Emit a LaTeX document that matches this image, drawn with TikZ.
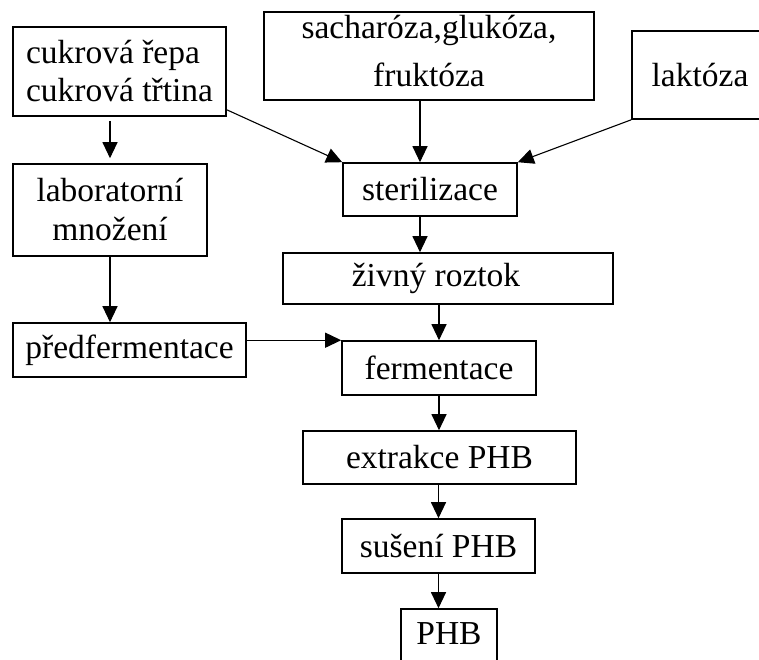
\documentclass[tikz,border=0pt]{standalone}
\usepackage{fontspec}
\setmainfont{Liberation Serif}
\usepackage{tikz}
\usetikzlibrary{arrows.meta,positioning,calc}

\begin{document}
\begin{tikzpicture}[x=1pt, y=-1pt,
      box/.style={draw=black, line width=1.6pt, align=center, inner sep=0pt,
                  font=\fontsize{33.5}{38}\selectfont},
      flow/.style={-{Triangle[length=16pt, width=15pt]}, line width=1.1pt, draw=black}]
    \useasboundingbox (0,0) rectangle (759,659);
    % sources
    \node[box, align=left, minimum width=213pt, minimum height=89pt] (cane) at (119.5,71.5)
      {cukrová řepa\\cukrová třtina};
    \node[box, minimum width=330pt, minimum height=88pt, text depth=10pt] (sugars) at (429,56)
      {sacharóza,glukóza,\\[10pt]fruktóza};
    \node[box, minimum width=136pt, minimum height=88pt] (lactose) at (700,75) {laktóza};
    % left branch
    \node[box, minimum width=194pt, minimum height=92pt] (lab) at (110,210)
      {laboratorní\\[1pt]množení};
    \node[box, minimum width=233pt, minimum height=54pt] (prefer) at (129.5,350) {předfermentace};
    % main line
    \node[box, minimum width=174pt, minimum height=53pt] (sterile) at (430,189.5) {sterilizace};
    \node[box, minimum width=330pt, minimum height=51pt] (broth) at (448,278.5)
      {živný roztok\hspace*{24pt}};
    \node[box, minimum width=194pt, minimum height=54pt] (ferm) at (439,368) {fermentace};
    \node[box, minimum width=273pt, minimum height=53pt] (extract) at (439.5,457.5) {extrakce PHB};
    \node[box, minimum width=193pt, minimum height=54pt] (dry) at (438.5,546) {sušení PHB};
    \node[box, minimum width=96pt, minimum height=66pt, text depth=16pt] (phb) at (449,642) {PHB};

    \draw[flow, shorten <=4pt, shorten >=5pt] (cane.south -| lab.north) -- (lab.north);
    \draw[flow] ([yshift=7pt]cane.south east) -- (sterile.north west);
    \draw[flow] ([xshift=-9pt]sugars.south) -- ([xshift=-10pt]sterile.north);
    \draw[flow] (lactose.south west) -- (sterile.north east);
    \draw[flow] ([xshift=-10pt]sterile.south) -- ([xshift=-28pt]broth.north);
    \draw[flow] (lab.south) -- (lab.south |- prefer.north);
    \draw[flow] (prefer.east |- ferm.north west) -- (ferm.north west);
    \draw[flow] (broth.south -| ferm.north) -- (ferm.north);
    \draw[flow] (ferm.south) -- (ferm.south |- extract.north);
    \draw[flow] (dry.north |- extract.south) -- (dry.north);
    \draw[flow] (dry.south) -- (dry.south |- phb.north);
  \end{tikzpicture}
\end{document}
